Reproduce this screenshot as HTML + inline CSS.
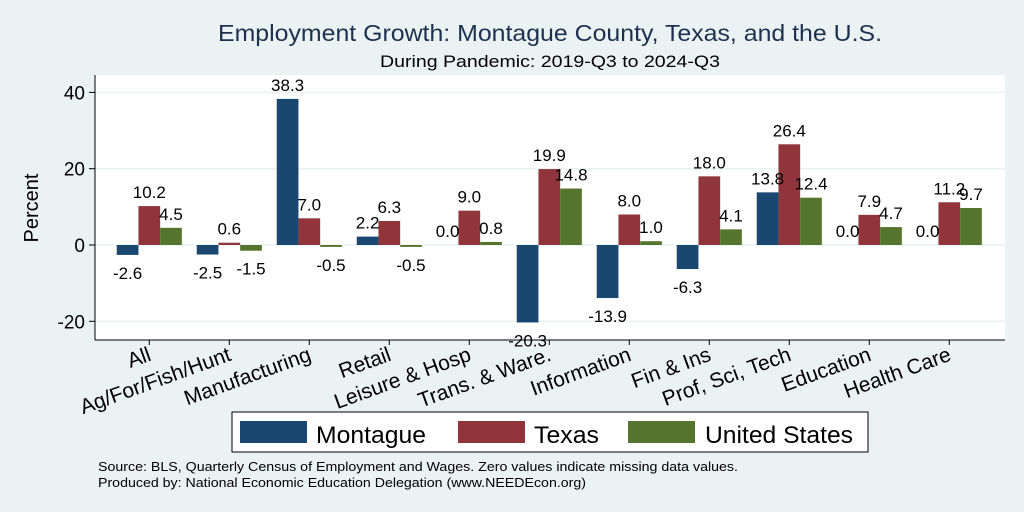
<!DOCTYPE html>
<html><head><meta charset="utf-8"><style>
body{margin:0;background:#eaf2f3;}
svg{display:block;font-family:"Liberation Sans",Arial,sans-serif;}
</style></head><body>
<svg id="chart" width="1024" height="512">
<rect x="0" y="0" width="1024" height="512" fill="#eaf2f3"/>
<text x="218" y="41" font-size="23" textLength="664" lengthAdjust="spacingAndGlyphs" fill="#1e3050">Employment Growth: Montague County, Texas, and the U.S.</text>
<text x="380" y="67" font-size="17" textLength="340" lengthAdjust="spacingAndGlyphs" fill="#000">During Pandemic: 2019-Q3 to 2024-Q3</text>
<rect x="95" y="75" width="910" height="265" fill="#fff"/>
<g id="grid"></g><g id="bars"></g><g id="labels"></g><g id="axes"></g>
<text transform="translate(38,208) rotate(-90)" text-anchor="middle" font-size="20">Percent</text>
<g>
<rect x="232" y="412" width="636" height="40" fill="#fff" stroke="#000" stroke-width="1"/>
<rect x="240" y="421" width="67" height="22" fill="#1a476f"/>
<text x="316" y="443" font-size="24" textLength="110" lengthAdjust="spacingAndGlyphs">Montague</text>
<rect x="458" y="421" width="67" height="22" fill="#90353b"/>
<text x="534" y="443" font-size="24" textLength="65" lengthAdjust="spacingAndGlyphs">Texas</text>
<rect x="628" y="421" width="67" height="22" fill="#55752f"/>
<text x="705" y="443" font-size="24" textLength="148" lengthAdjust="spacingAndGlyphs">United States</text>
</g>
<text x="98" y="471" font-size="13" textLength="640" lengthAdjust="spacingAndGlyphs">Source: BLS, Quarterly Census of Employment and Wages. Zero values indicate missing data values.</text>
<text x="98" y="487" font-size="13" textLength="488" lengthAdjust="spacingAndGlyphs">Produced by: National Economic Education Delegation (www.NEEDEcon.org)</text>
</svg>
<script>
const categories=["All","Ag/For/Fish/Hunt","Manufacturing","Retail","Leisure & Hosp","Trans. & Ware.","Information","Fin & Ins","Prof, Sci, Tech","Education","Health Care"];
const montague=[-2.6,-2.5,38.3,2.2,0.0,-20.3,-13.9,-6.3,13.8,0.0,0.0];
const texas=[10.2,0.6,7.0,6.3,9.0,19.9,8.0,18.0,26.4,7.9,11.2];
const us=[4.5,-1.5,-0.5,-0.5,0.8,14.8,1.0,4.1,12.4,4.7,9.7];
const yTicks=[-20,0,20,40];
const NS="http://www.w3.org/2000/svg";
const y=v=>245-v*76.3/20;
const groupX=i=>149.3+80*i;
const bw=21.7;
function mk(tag,attrs,parent,text){const e=document.createElementNS(NS,tag);for(const k in attrs)e.setAttribute(k,attrs[k]);if(text!==undefined)e.textContent=text;document.getElementById(parent).appendChild(e);return e;}
yTicks.forEach(t=>{
 const g=mk('line',{x1:95,x2:1005,y1:y(t),y2:y(t),stroke:'#eaf2f3','stroke-width':1.5},'grid');
 
 
 const tk=mk('line',{x1:89,x2:95,y1:y(t),y2:y(t),stroke:'#000'},'axes');
 
 
 const tl=mk('text',{x:85,y:y(t)+7,'text-anchor':'end','font-size':19},'axes',String(t));
 
 
});
const ax1=mk('line',{x1:95,x2:95,y1:75,y2:340,stroke:'#000'},'axes');


const ax2=mk('line',{x1:95,x2:1005,y1:340,y2:340,stroke:'#000'},'axes');


const series=[[montague,'#1a476f','montague'],[texas,'#90353b','texas'],[us,'#55752f','us']];
categories.forEach((c,i)=>{
 series.forEach(([vals,col,nm],s)=>{
  const v=vals[i];const x0=groupX(i)-1.5*bw+s*bw;
  const top=Math.min(y(v),y(0)),h=Math.abs(y(v)-y(0));
  const r=mk('rect',{x:x0,y:top,width:bw,height:Math.max(h,0),fill:col},'bars');
  
  
  const ly=v<0?y(v)+24:y(v)-8;
  const t=mk('text',{x:x0+bw/2,y:ly,'text-anchor':'middle','font-size':17},'labels',v.toFixed(1));
  
  
 });
 const tk=mk('line',{x1:groupX(i),x2:groupX(i),y1:340,y2:345,stroke:'#000'},'axes');
 
 
 const xl=mk('text',{x:0,y:0,'text-anchor':'end','font-size':21,transform:`translate(${groupX(i)+3},360) rotate(-20)`},'axes',c);
 
 
});
</script>
</body></html>
